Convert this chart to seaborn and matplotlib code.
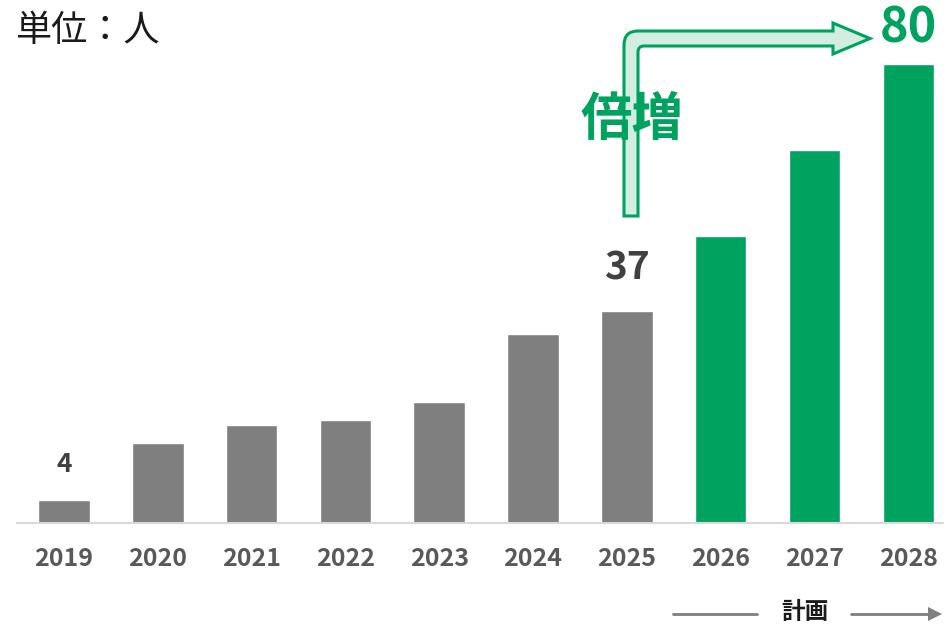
import matplotlib
matplotlib.use("Agg")
import matplotlib.pyplot as plt
import seaborn as sns
import pandas as pd
from matplotlib.path import Path
from matplotlib.patches import PathPatch

years = ["2019", "2020", "2021", "2022", "2023", "2024", "2025", "2026", "2027", "2028"]
values = [4, 14, 17, 18, 21, 33, 37, 50, 65, 80]
kinds = ["実績"] * 7 + ["計画"] * 3
labelled = {"2019": "4", "2025": "37"}

GRAY = "#7f7f7f"
GREEN = "#00a25f"
LIGHT = "#d3ede0"

sns.set_theme(style="white")
plt.rcParams["font.family"] = ["Noto Sans CJK JP", "DejaVu Sans"]

df = pd.DataFrame({"year": years, "value": values, "kind": kinds})

fig = plt.figure(figsize=(9.44, 6.25), dpi=100)
ax = fig.add_axes([17 / 944, 102 / 625, (944 - 17) / 944, 488 / 625])
sns.barplot(data=df, x="year", y="value", hue="kind", palette={"実績": GRAY, "計画": GREEN},
            width=0.55, dodge=False, legend=False, ax=ax, saturation=1)
ax.set_xlim(-0.5, 9.38)
ax.set_ylim(0, 85)
ax.set_xlabel("")
ax.set_ylabel("")
ax.set_yticks([])
for s in ["left", "right", "top"]:
    ax.spines[s].set_visible(False)
ax.spines["bottom"].set_color("#d9d9d9")
ax.spines["bottom"].set_linewidth(1.5)
ax.tick_params(axis="x", length=0, pad=17, labelsize=18, labelcolor="#595959")
for t in ax.get_xticklabels():
    t.set_fontweight("bold")

# value labels
for i, (y, v) in enumerate(zip(years, values)):
    if y in labelled:
        fs = 19 if y == "2019" else 28
        off = 36 if y == "2019" else 43
        ax.annotate(labelled[y], (i, v), xytext=(0, off), textcoords="offset pixels",
                    ha="center", va="center", fontsize=fs, fontweight="bold", color="#404040")
ax.annotate("80", (9, values[-1]), xytext=(0, 36), textcoords="offset pixels",
            ha="center", va="center", fontsize=35, fontweight="bold", color=GREEN,
            annotation_clip=False)

fig.text(15 / 944, 1 - 31 / 625, "単位：人", fontsize=26, color="#1a1a1a", ha="left", va="center")

# bent arrow (display pixels, origin bottom-left)
H = 625
def P(x, y):
    return (x, H - y)

x0, x1 = 624, 638          # shaft left/right
ytop, ybot = 31, 46        # horizontal shaft top/bottom
yb = 216                   # shaft bottom
hx, tip = 833, 870         # head base x, tip x
ht, hb = 23, 54            # head top/bottom
r = 14
verts = [P(x0, yb), P(x0, ytop + r), P(x0, ytop), P(x0 + r, ytop),
         P(hx, ytop), P(hx, ht), P(tip, (ytop + ybot) / 2), P(hx, hb), P(hx, ybot),
         P(x1 + 6, ybot), P(x1, ybot), P(x1, ybot + 6), P(x1, yb), P(x0, yb)]
codes = [Path.MOVETO, Path.LINETO, Path.CURVE3, Path.CURVE3,
         Path.LINETO, Path.LINETO, Path.LINETO, Path.LINETO, Path.LINETO,
         Path.LINETO, Path.CURVE3, Path.CURVE3, Path.LINETO, Path.CLOSEPOLY]
patch = PathPatch(Path(verts, codes), facecolor=LIGHT, edgecolor=GREEN, lw=2.2,
                  transform=None, zorder=5)
fig.patches.append(patch)

fig.text(632 / 944, 1 - 120 / 625, "倍増", fontsize=37, fontweight="bold", color=GREEN,
         ha="center", va="center", zorder=6)

# 計画 arrow at bottom
fig.text(805 / 944, 1 - 612 / 625, "計画", fontsize=17, fontweight="bold", color="#1a1a1a",
         ha="center", va="center")
fig.add_artist(plt.Line2D([673 / 944, 757 / 944], [1 - 614 / 625] * 2, color="#7f7f7f", lw=2))
fig.add_artist(plt.Line2D([851 / 944, 930 / 944], [1 - 614 / 625] * 2, color="#7f7f7f", lw=2))
fig.patches.append(PathPatch(Path([P(928, 607), P(942, 614), P(928, 621), P(928, 607)],
                                  [Path.MOVETO, Path.LINETO, Path.LINETO, Path.CLOSEPOLY]),
                             facecolor="#7f7f7f", edgecolor="none", transform=None))

fig.savefig("out.png", dpi=100)
